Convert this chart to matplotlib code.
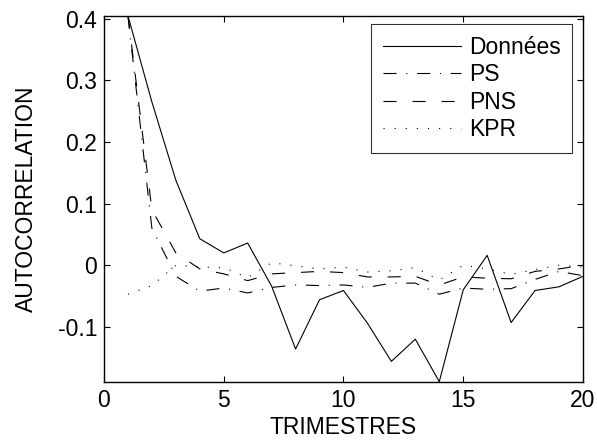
import numpy as np
import matplotlib
matplotlib.use('Agg')
import matplotlib.pyplot as plt
from matplotlib.ticker import FuncFormatter

plt.rcParams['font.family'] = ['Liberation Sans', 'DejaVu Sans']
plt.rcParams['axes.unicode_minus'] = False
plt.rcParams['lines.scale_dashes'] = False

# autocorrelation by lag (quarters)
lags = np.arange(1, 21)
donnees = [0.405, 0.265, 0.138, 0.043, 0.020, 0.036, -0.034, -0.136, -0.056, -0.041,
           -0.094, -0.156, -0.120, -0.189, -0.040, 0.016, -0.093, -0.041, -0.035, -0.018]
ps = [0.405, 0.060, -0.018, -0.042, -0.037, -0.045, -0.036, -0.032, -0.033, -0.032,
      -0.036, -0.029, -0.029, -0.047, -0.037, -0.039, -0.038, -0.023, -0.010, -0.017]
pns = [0.405, 0.090, 0.020, -0.006, -0.014, -0.025, -0.014, -0.012, -0.010, -0.012,
       -0.019, -0.019, -0.018, -0.032, -0.019, -0.021, -0.022, -0.010, -0.006, 0.000]
kpr = [-0.047, -0.033, 0.000, -0.003, -0.004, -0.020, 0.004, -0.001, -0.006, -0.003,
       -0.011, -0.009, -0.004, -0.024, 0.000, -0.006, -0.015, -0.007, 0.000, -0.003]

fig = plt.figure(figsize=(5.97, 4.43), dpi=100)
ax = fig.add_axes([0.1742, 0.1384, 0.8023, 0.8262])

fs = 16.5
lw = 0.8
ax.plot(lags, donnees, color='black', lw=lw, label='Données')
ax.plot(lags, ps, color='black', lw=lw, linestyle=(0, (9.4, 7.0, 0.8, 7.0)), label='PS')
ax.plot(lags, pns, color='black', lw=lw, linestyle=(0, (9.4, 11.5)), label='PNS')
ax.plot(lags, kpr, color='black', lw=lw, linestyle=(0, (0.8, 7.2)), label='KPR')

ax.set_xlim(0, 20)
ax.set_ylim(-0.189, 0.405)
ax.set_xticks([0, 5, 10, 15, 20])
ax.set_yticks([-0.1, 0, 0.1, 0.2, 0.3, 0.4])
ax.yaxis.set_major_formatter(FuncFormatter(lambda v, p: '0' if abs(v) < 1e-9 else f'{v:g}'))
ax.tick_params(direction='in', length=4, width=0.8, top=True, right=True,
               labelsize=fs, colors='black', pad=5)
for s in ax.spines.values():
    s.set_linewidth(1.0)

ax.set_xlabel('TRIMESTRES', fontsize=fs, labelpad=3)
ax.set_ylabel('AUTOCORRELATION', fontsize=fs, labelpad=14)

leg = ax.legend(loc='upper right', bbox_to_anchor=(0.977, 0.977), borderaxespad=0,
                fontsize=fs, frameon=True, fancybox=False, handlelength=3.4,
                handletextpad=0.35, labelspacing=0.2, borderpad=0.5)
leg.get_frame().set_edgecolor('black')
leg.get_frame().set_linewidth(0.8)

fig.savefig('out.png', dpi=100, facecolor='white')
